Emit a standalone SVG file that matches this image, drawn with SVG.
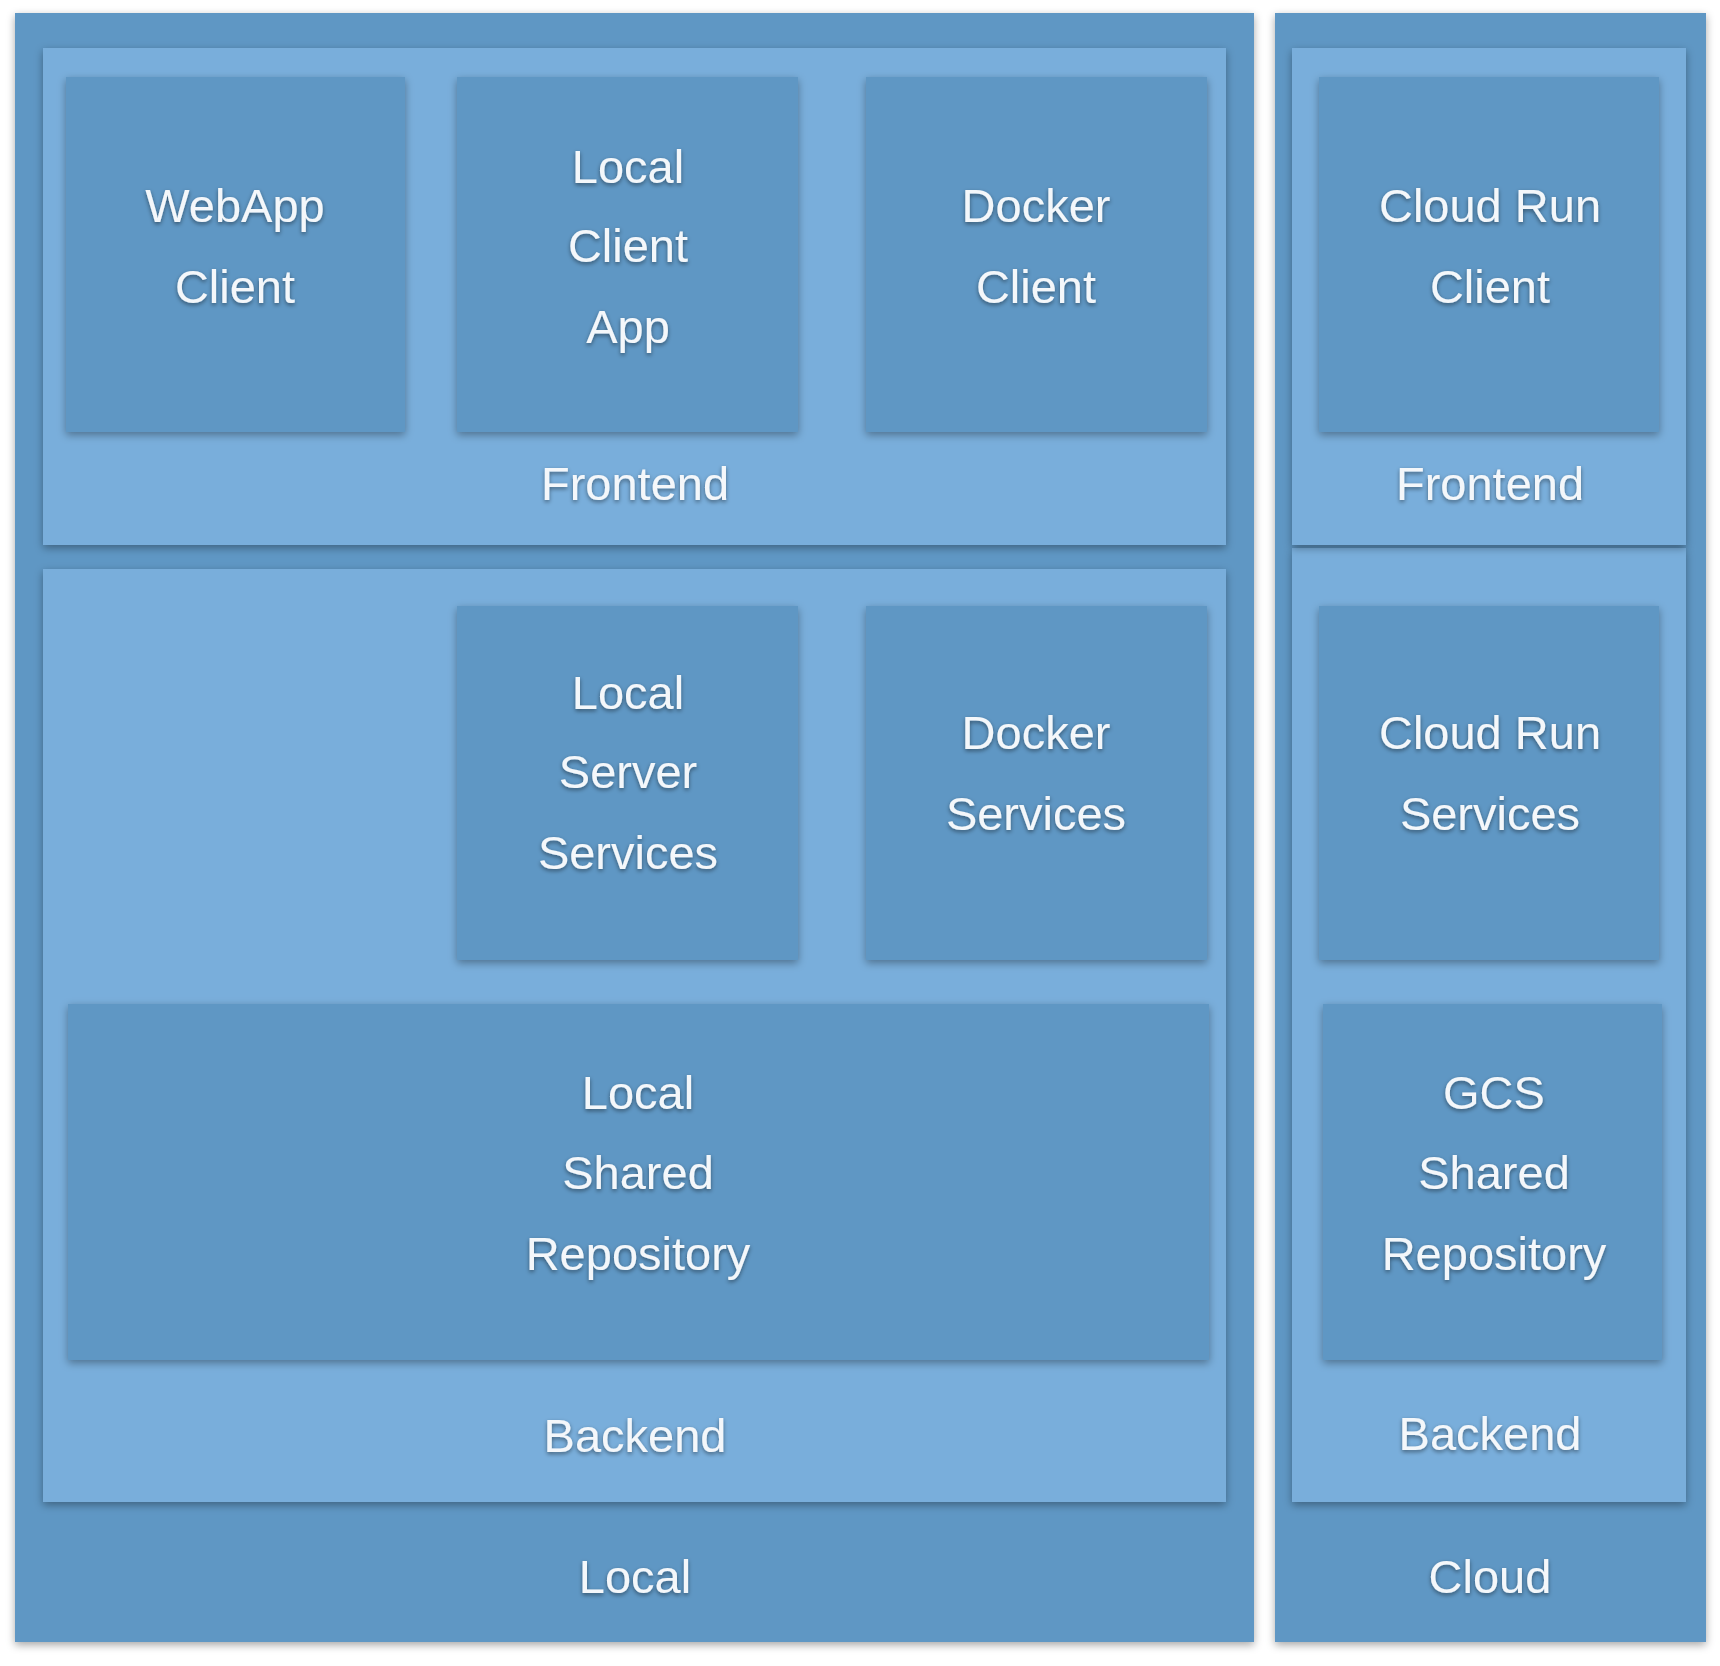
<svg xmlns="http://www.w3.org/2000/svg" width="1720" height="1666" viewBox="0 0 1720 1666">
<defs>
<filter id="sh" x="-10%" y="-10%" width="120%" height="120%"><feDropShadow dx="0" dy="3" stdDeviation="4" flood-color="#000" flood-opacity="0.35"/></filter>
<filter id="ts" x="-10%" y="-30%" width="120%" height="160%"><feDropShadow dx="0" dy="2" stdDeviation="2" flood-color="#000" flood-opacity="0.45"/></filter>
</defs>
<style>
.o{fill:#5e97c4;filter:url(#sh)}
.i{fill:#79aedb;filter:url(#sh)}
.b{fill:#5e97c4;filter:url(#sh)}
text{font-family:"Liberation Sans",Arial,sans-serif;font-size:47px;fill:#f4f7fa;text-anchor:middle;filter:url(#ts)}
</style>
<rect width="1720" height="1666" fill="#fff"/>
<g id="local"><rect class="o" x="15" y="13" width="1239" height="1629"/><text x="635" y="1593">Local</text></g>
<g id="cloud"><rect class="o" x="1275" y="13" width="431" height="1629"/><text x="1490" y="1593">Cloud</text></g>
<g id="frontend-local"><rect class="i" x="43" y="48" width="1183" height="497"/><text x="635" y="500">Frontend</text></g>
<g id="backend-local"><rect class="i" x="43" y="569" width="1183" height="933"/><text x="635" y="1452">Backend</text></g>
<g id="backend-cloud"><rect class="i" x="1292" y="548" width="394" height="954"/><text x="1490" y="1450">Backend</text></g>
<g id="frontend-cloud"><rect class="i" x="1292" y="48" width="394" height="497"/><text x="1490" y="500">Frontend</text></g>
<g id="webapp"><rect class="b" x="66" y="77" width="339" height="355"/><text x="235" y="222">WebApp</text><text x="235" y="303">Client</text></g>
<g id="localclient"><rect class="b" x="457" y="77" width="341" height="355"/><text x="628" y="183">Local</text><text x="628" y="262">Client</text><text x="628" y="343">App</text></g>
<g id="dockerclient"><rect class="b" x="866" y="77" width="341" height="355"/><text x="1036" y="222">Docker</text><text x="1036" y="303">Client</text></g>
<g id="cloudrunclient"><rect class="b" x="1319" y="77" width="340" height="355"/><text x="1490" y="222">Cloud Run</text><text x="1490" y="303">Client</text></g>
<g id="localserver"><rect class="b" x="457" y="606" width="341" height="354"/><text x="628" y="709">Local</text><text x="628" y="788">Server</text><text x="628" y="869">Services</text></g>
<g id="dockerservices"><rect class="b" x="866" y="606" width="341" height="354"/><text x="1036" y="749">Docker</text><text x="1036" y="830">Services</text></g>
<g id="cloudrunservices"><rect class="b" x="1319" y="606" width="340" height="354"/><text x="1490" y="749">Cloud Run</text><text x="1490" y="830">Services</text></g>
<g id="localrepo"><rect class="b" x="68" y="1004" width="1141" height="356"/><text x="638" y="1109">Local</text><text x="638" y="1189">Shared</text><text x="638" y="1270">Repository</text></g>
<g id="gcsrepo"><rect class="b" x="1323" y="1004" width="339" height="356"/><text x="1494" y="1109">GCS</text><text x="1494" y="1189">Shared</text><text x="1494" y="1270">Repository</text></g>
<g id="connectors"/>
</svg>
